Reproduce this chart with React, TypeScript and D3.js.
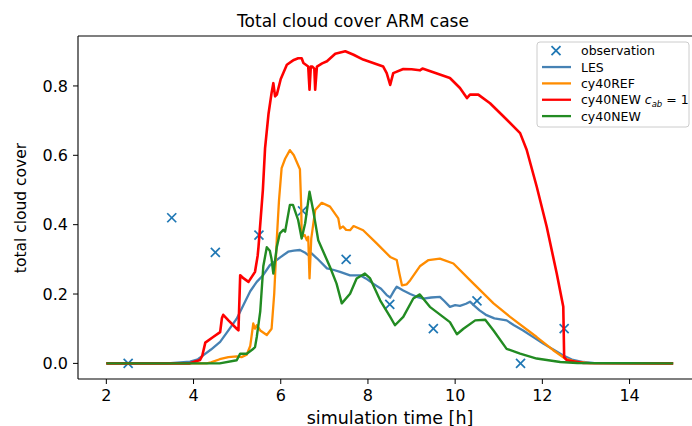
import React from "react";
import * as d3 from "d3";

const W = 692;
const H = 426;

// observations (t [h], cloud cover)
const obsT = [2.5, 3.5, 4.5, 5.5, 6.5, 7.5, 8.5, 9.5, 10.5, 11.5, 12.5];
const obsV = [0, 0.42, 0.32, 0.37, 0.44, 0.3, 0.17, 0.1, 0.18, 0, 0.1];

// LES
const les: [number, number][] = [
  [2.0, 0], [3.4, 0], [3.7, 0.003], [3.92, 0.005], [4.1, 0.012], [4.22, 0.023], [4.4, 0.04],
  [4.61, 0.062], [4.8, 0.095], [4.99, 0.129], [5.15, 0.17], [5.3, 0.208], [5.45, 0.235],
  [5.6, 0.255], [5.75, 0.283], [5.98, 0.305], [6.17, 0.322], [6.3, 0.325], [6.44, 0.327],
  [6.55, 0.32], [6.63, 0.312], [6.7, 0.318], [6.83, 0.303], [7.06, 0.274], [7.2, 0.27],
  [7.36, 0.264], [7.59, 0.254], [7.82, 0.254], [7.95, 0.245], [8.12, 0.23], [8.3, 0.215],
  [8.43, 0.197], [8.51, 0.19], [8.6, 0.21], [8.66, 0.221], [8.81, 0.21], [8.97, 0.2],
  [9.12, 0.192], [9.27, 0.187], [9.45, 0.19], [9.65, 0.192], [9.75, 0.18], [9.88, 0.163],
  [10.0, 0.168], [10.11, 0.166], [10.25, 0.172], [10.34, 0.178], [10.45, 0.165], [10.56, 0.153],
  [10.72, 0.139], [10.9, 0.13], [11.18, 0.124], [11.35, 0.11], [11.56, 0.095], [11.8, 0.075],
  [12.02, 0.057], [12.25, 0.04], [12.48, 0.023], [12.7, 0.01], [12.94, 0.004], [13.2, 0.001],
  [15.0, 0],
];

// cy40REF
const ref: [number, number][] = [
  [2.0, 0], [4.3, 0], [4.4, 0.003], [4.6, 0.012], [4.8, 0.018], [4.99, 0.02], [5.1, 0.018],
  [5.22, 0.025], [5.3, 0.05], [5.37, 0.115], [5.41, 0.1], [5.45, 0.11], [5.53, 0.095],
  [5.68, 0.082], [5.79, 0.1], [5.85, 0.2], [5.91, 0.36], [5.96, 0.47], [6.02, 0.563],
  [6.1, 0.59], [6.21, 0.615], [6.3, 0.6], [6.44, 0.56], [6.47, 0.45], [6.48, 0.365],
  [6.55, 0.37], [6.6, 0.355], [6.63, 0.365], [6.66, 0.245], [6.7, 0.36], [6.79, 0.442],
  [6.94, 0.463], [7.13, 0.452], [7.32, 0.418], [7.36, 0.389], [7.43, 0.395], [7.5, 0.385],
  [7.59, 0.384], [7.67, 0.396], [7.89, 0.384], [8.2, 0.346], [8.51, 0.307], [8.66, 0.298],
  [8.72, 0.26], [8.78, 0.225], [8.89, 0.228], [8.97, 0.24], [9.19, 0.28], [9.39, 0.298],
  [9.65, 0.302], [9.96, 0.288], [10.34, 0.24], [10.88, 0.173], [11.26, 0.134], [11.87, 0.076],
  [12.25, 0.038], [12.52, 0.014], [12.8, 0.004], [13.1, 0.001], [15.0, 0],
];

// cy40NEW c_ab = 1
const newCab: [number, number][] = [
  [2.0, 0], [3.9, 0], [4.0, 0.004], [4.15, 0.01], [4.2, 0.022], [4.27, 0.06], [4.45, 0.076],
  [4.61, 0.09], [4.65, 0.13], [4.68, 0.14], [4.8, 0.124], [4.99, 0.1], [5.03, 0.095],
  [5.07, 0.254], [5.15, 0.245], [5.26, 0.235], [5.41, 0.264], [5.47, 0.31], [5.49, 0.336],
  [5.59, 0.5], [5.64, 0.62], [5.72, 0.72], [5.79, 0.78], [5.83, 0.808], [5.87, 0.77],
  [5.91, 0.775], [6.0, 0.82], [6.14, 0.861], [6.3, 0.875], [6.4, 0.88], [6.48, 0.88],
  [6.52, 0.866], [6.63, 0.856], [6.66, 0.789], [6.69, 0.856], [6.72, 0.856], [6.77, 0.85],
  [6.79, 0.789], [6.83, 0.856], [6.95, 0.865], [7.06, 0.871], [7.25, 0.893], [7.48, 0.9],
  [7.67, 0.89], [7.89, 0.876], [8.35, 0.856], [8.43, 0.837], [8.51, 0.803], [8.58, 0.837],
  [8.81, 0.849], [9.0, 0.848], [9.19, 0.845], [9.25, 0.85], [9.88, 0.823], [10.11, 0.794],
  [10.27, 0.765], [10.34, 0.775], [10.53, 0.775], [10.8, 0.75], [11.11, 0.712], [11.49, 0.664],
  [11.64, 0.616], [11.87, 0.51], [12.1, 0.394], [12.33, 0.259], [12.48, 0.163], [12.5, 0.018],
  [12.56, 0.009], [12.94, 0.001], [15.0, 0],
];

// cy40NEW
const newDef: [number, number][] = [
  [2.0, 0], [4.6, 0], [4.99, 0.009], [5.07, 0.028], [5.22, 0.028], [5.35, 0.04], [5.41, 0.047],
  [5.45, 0.076], [5.53, 0.15], [5.6, 0.28], [5.68, 0.335], [5.75, 0.325], [5.79, 0.3],
  [5.83, 0.259], [5.91, 0.336], [5.98, 0.375], [6.06, 0.385], [6.1, 0.38], [6.21, 0.457],
  [6.28, 0.457], [6.4, 0.413], [6.48, 0.36], [6.56, 0.404], [6.66, 0.495], [6.75, 0.437],
  [6.86, 0.355], [7.13, 0.278], [7.28, 0.23], [7.4, 0.173], [7.59, 0.201], [7.74, 0.245],
  [7.93, 0.259], [8.05, 0.245], [8.28, 0.182], [8.51, 0.134], [8.62, 0.11], [8.81, 0.134],
  [9.04, 0.187], [9.19, 0.199], [9.42, 0.163], [9.88, 0.119], [10.04, 0.084], [10.19, 0.1],
  [10.46, 0.124], [10.69, 0.126], [10.88, 0.095], [11.18, 0.042], [11.49, 0.028],
  [11.87, 0.014], [12.41, 0.004], [12.8, 0.001], [15.0, 0],
];

const xTicks = [2, 4, 6, 8, 10, 12, 14];
const yTicks = [0, 0.2, 0.4, 0.6, 0.8];

const FONT = "DejaVu Sans, Liberation Sans, sans-serif";

const series = [
  { key: "LES", data: les, color: "#4682b4", width: 2.3 },
  { key: "cy40REF", data: ref, color: "#ff8c00", width: 2.3 },
  { key: "cy40NEWcab", data: newCab, color: "#ff0000", width: 2.6 },
  { key: "cy40NEW", data: newDef, color: "#228b22", width: 2.4 },
];

export default function App() {
  const left = 78;
  const top = 36;
  const bottom = 379;
  const x = d3.scaleLinear().domain([1.35, 15.65]).range([left, 701.5]);
  const y = d3.scaleLinear().domain([-0.045, 0.944]).range([bottom, top]);
  const line = d3
    .line<[number, number]>()
    .x((d) => x(d[0]))
    .y((d) => y(d[1]));

  const xMark = (cx: number, cy: number, r: number, color: string, k: string) => (
    <g key={k} stroke={color} strokeWidth={1.7}>
      <line x1={cx - r} y1={cy - r} x2={cx + r} y2={cy + r} />
      <line x1={cx - r} y1={cy + r} x2={cx + r} y2={cy - r} />
    </g>
  );

  const legendRows = [
    { label: "observation", type: "obs", color: "#1f77b4" },
    { label: "LES", type: "line", color: "#4682b4" },
    { label: "cy40REF", type: "line", color: "#ff8c00" },
    { label: "cab", type: "line", color: "#ff0000" },
    { label: "cy40NEW", type: "line", color: "#228b22" },
  ];

  return (
    <div style={{ position: "absolute", left: 0, top: 0, width: W, height: H, overflow: "hidden" }}>
      <svg width={W} height={H} style={{ display: "block", background: "#fff" }} fontFamily={FONT}>
        <defs>
          <clipPath id="plotclip">
            <rect x={left} y={top} width={W - left} height={bottom - top} />
          </clipPath>
        </defs>
        <text x={353} y={27} fontSize={17} textAnchor="middle" fill="#000">
          Total cloud cover ARM case
        </text>

        <g clipPath="url(#plotclip)">
          {obsT.map((t, i) => xMark(x(t), y(obsV[i]), 4.5, "#1f77b4", "o" + i))}
          {series.map((s) => (
            <path
              key={s.key}
              d={line(s.data) || ""}
              fill="none"
              stroke={s.color}
              strokeWidth={s.width}
              strokeLinejoin="round"
              strokeLinecap="butt"
            />
          ))}
        </g>

        {/* spines */}
        <line x1={left} y1={top} x2={W} y2={top} stroke="#000" strokeWidth={1.1} />
        <line x1={left} y1={bottom} x2={W} y2={bottom} stroke="#000" strokeWidth={1.1} />
        <line x1={left} y1={top} x2={left} y2={bottom} stroke="#000" strokeWidth={1.1} />

        {/* x ticks */}
        {xTicks.map((t) => (
          <g key={"xt" + t}>
            <line x1={x(t)} y1={bottom} x2={x(t)} y2={bottom + 5} stroke="#000" strokeWidth={1} />
            <text x={x(t)} y={bottom + 22} fontSize={16} textAnchor="middle" fill="#000">
              {t}
            </text>
          </g>
        ))}
        {/* y ticks */}
        {yTicks.map((t) => (
          <g key={"yt" + t}>
            <line x1={left - 5} y1={y(t)} x2={left} y2={y(t)} stroke="#000" strokeWidth={1} />
            <text x={left - 10} y={y(t)} dy="0.36em" fontSize={16} textAnchor="end" fill="#000">
              {t.toFixed(1)}
            </text>
          </g>
        ))}

        <text x={390} y={423.5} fontSize={17.5} textAnchor="middle" fill="#000">
          simulation time [h]
        </text>
        <text
          transform={`translate(26,208) rotate(-90)`}
          fontSize={15.5}
          textAnchor="middle"
          fill="#000"
        >
          total cloud cover
        </text>

        {/* legend */}
        <rect x={537} y={42} width={152} height={85} rx={3} fill="#fff" fillOpacity={0.8} stroke="#ccc" strokeWidth={1} />
        {legendRows.map((r, i) => {
          const cy = 50.7 + i * 16.35;
          return (
            <g key={"lg" + i}>
              {r.type === "obs"
                ? xMark(556, cy, 4.5, r.color, "lgm")
                : <line x1={542} y1={cy} x2={571} y2={cy} stroke={r.color} strokeWidth={2.3} />}
              <text x={581} y={cy} dy="0.36em" fontSize={12.5} fill="#000">
                {r.label === "cab" ? (
                  <>
                    cy40NEW{" "}
                    <tspan fontStyle="italic">c</tspan>
                    <tspan fontStyle="italic" fontSize={8.5} dy={3}>ab</tspan>
                    <tspan dy={-3}> = 1</tspan>
                  </>
                ) : (
                  r.label
                )}
              </text>
            </g>
          );
        })}
      </svg>
    </div>
  );
}
